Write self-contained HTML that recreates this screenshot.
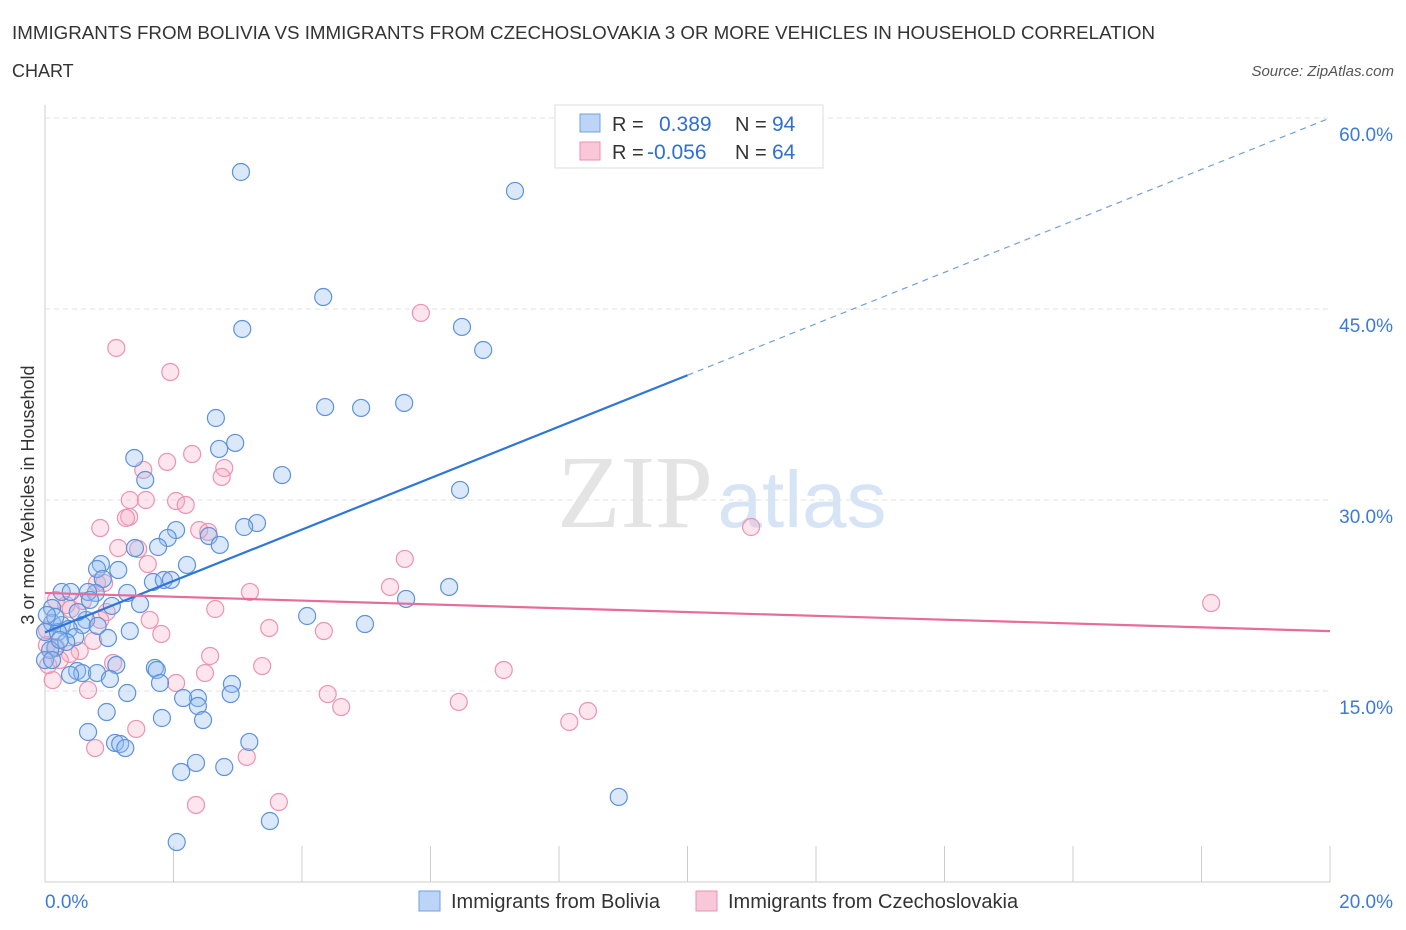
<!DOCTYPE html>
<html><head><meta charset="utf-8"><style>
body{margin:0;background:#fff;font-family:"Liberation Sans",sans-serif;}
svg{display:block}
</style></head><body>
<svg id="chart" width="1406" height="930">
<text x="12" y="39" font-size="18" fill="#333" textLength="1143" lengthAdjust="spacingAndGlyphs">IMMIGRANTS FROM BOLIVIA VS IMMIGRANTS FROM CZECHOSLOVAKIA 3 OR MORE VEHICLES IN HOUSEHOLD CORRELATION</text>
<text x="12" y="77" font-size="18" fill="#333">CHART</text>
<text x="1394" y="76" font-size="15" fill="#555" font-style="italic" text-anchor="end">Source: ZipAtlas.com</text>
<text x="635" y="527" font-size="104" fill="#e4e4e4" font-family="Liberation Serif,serif" text-anchor="middle">ZIP</text>
<text x="802" y="527" font-size="80" fill="#d6e4f5" text-anchor="middle">atlas</text>
<text transform="translate(34,495) rotate(-90)" font-size="18" fill="#333" text-anchor="middle">3 or more Vehicles in Household</text>
<g id="grid"></g><g id="pts"></g><g id="lines"></g>
<g>
<rect x="555" y="105" width="268" height="63" fill="#fff" stroke="#ddd"/>
<rect x="580" y="114" width="20" height="18" fill="#bcd4f5" stroke="#6fa0e0"/>
<text x="612" y="131" font-size="20" fill="#333">R =</text><text x="659" y="131" font-size="21" fill="#2f6fd0">0.389</text>
<text x="735" y="131" font-size="20" fill="#333">N =</text><text x="772" y="131" font-size="21" fill="#2f6fd0">94</text>
<rect x="580" y="142" width="20" height="18" fill="#f8c8d8" stroke="#ec8fae"/>
<text x="612" y="159" font-size="20" fill="#333">R =</text><text x="647" y="159" font-size="21" fill="#2f6fd0">-0.056</text>
<text x="735" y="159" font-size="20" fill="#333">N =</text><text x="772" y="159" font-size="21" fill="#2f6fd0">64</text>
</g>
<g>
<rect x="419" y="891" width="21" height="20" fill="#bcd4f5" stroke="#6fa0e0"/>
<text x="451" y="908" font-size="20" fill="#333">Immigrants from Bolivia</text>
<rect x="696" y="891" width="21" height="20" fill="#f8c8d8" stroke="#ec8fae"/>
<text x="728" y="908" font-size="20" fill="#333">Immigrants from Czechoslovakia</text>
</g>
</svg>
<script>
const yTicks=[15,30,45,60];
const yTickLabels=["15.0%","30.0%","45.0%","60.0%"];
const xTickLabels=["0.0%","20.0%"];
const blueX=[3.05,7.315,4.33,3.07,6.49,6.82,5.59,4.36,4.92,2.66,2.96,2.71,1.39,3.69,1.56,6.46,3.30,3.10,2.04,1.91,2.55,2.72,1.40,1.76,0.87,1.14,2.21,0.81,0.90,1.68,1.85,1.96,6.29,5.62,1.28,0.79,0.26,0.40,0.67,1.04,1.48,0.11,4.08,4.98,0.11,0.64,0.26,0.58,0.82,1.32,0.37,0.00,0.20,0.47,0.98,0.16,0.08,0.00,0.50,0.58,0.81,1.11,1.71,1.74,1.01,1.79,1.28,2.91,2.89,2.38,2.15,2.38,2.46,0.96,1.82,0.67,1.09,1.17,1.25,3.18,2.35,2.12,2.79,8.93,3.50,2.05,0.11,0.33,0.51,0.70,0.16,0.03,0.23,0.39];
const blueY=[55.76,54.27,45.94,43.43,43.59,41.78,37.62,37.30,37.23,36.44,34.48,34.01,33.30,31.96,31.57,30.79,28.19,27.88,27.64,27.02,27.17,26.47,26.23,26.31,24.97,24.50,24.90,24.58,23.80,23.56,23.72,23.72,23.17,22.23,22.70,22.70,22.78,22.78,22.78,21.68,21.83,21.52,20.89,20.26,20.34,20.58,20.18,20.18,20.11,19.71,19.87,19.63,19.63,19.24,19.16,18.38,18.22,17.43,16.57,16.41,16.41,17.04,16.81,16.65,15.94,15.63,14.84,15.55,14.76,14.45,14.45,13.82,12.72,13.35,12.88,11.78,10.92,10.84,10.52,11.00,9.35,8.64,9.03,6.68,4.79,3.14,17.43,18.85,21.20,22.15,20.81,20.97,19.01,16.26];
const pinkX=[1.11,1.95,5.85,2.29,1.90,1.53,2.79,2.75,1.32,1.57,2.04,2.19,1.31,1.26,0.86,2.40,2.54,1.14,1.45,5.60,1.60,0.81,0.92,5.37,3.19,0.59,0.33,0.40,0.96,2.65,1.63,3.49,4.34,1.81,0.75,0.03,0.17,0.54,0.39,2.57,1.06,3.38,7.14,2.49,2.04,0.67,4.40,4.61,6.44,8.45,8.16,1.42,0.78,3.14,3.64,2.35,0.12,0.05,10.99,18.15,0.03,0.17,0.86,0.23];
const pinkY=[41.94,40.05,44.69,33.61,32.99,32.36,32.51,31.81,30.00,30.00,29.92,29.61,28.67,28.59,27.80,27.64,27.49,26.23,26.15,25.37,24.97,23.48,23.48,23.17,22.78,22.07,21.75,21.44,21.20,21.44,20.58,19.95,19.71,19.48,18.93,18.61,18.46,18.14,17.91,17.75,17.20,16.96,16.65,16.41,15.63,15.08,14.76,13.74,14.14,13.43,12.57,12.02,10.52,9.82,6.28,6.05,15.86,17.04,27.88,21.91,19.79,22.15,20.58,17.43];
const blueTrend=[19.6,60.0];
const pinkTrend=[22.7,19.7];
const NS="http://www.w3.org/2000/svg";
const X0=45,X1=1330,Y0=882,YPX=191/15;
function sx(v){return X0+(v/20)*(X1-X0);}
function sy(v){return Y0-v*YPX;}
function mk(tag,attrs,parent){const e=document.createElementNS(NS,tag);for(const k in attrs)e.setAttribute(k,attrs[k]);parent.appendChild(e);return e;}
const grid=document.getElementById('grid');
let ax=mk('line',{x1:X0,y1:105,x2:X0,y2:Y0,stroke:'#ccc'},grid);


let bx=mk('line',{x1:X0,y1:Y0,x2:X1,y2:Y0,stroke:'#ccc'},grid);


yTicks.forEach((t,i)=>{
 let g=mk('line',{x1:X0,y1:sy(t),x2:X1,y2:sy(t),stroke:'#e2e2e2','stroke-dasharray':'5,4'},grid);
 
 
 let tx=mk('text',{x:1393,y:sy(t)+23,'font-size':19,fill:'#3b7ad8','text-anchor':'end'},grid);
 tx.textContent=yTickLabels[i];
 
 
});
for(let i=0;i<=10;i++){
 let t=mk('line',{x1:sx(i*2),y1:Y0,x2:sx(i*2),y2:Y0-36,stroke:'#ccc'},grid);
 
 
}
[[0,'start',45],[20,'end',1393]].forEach((d,i)=>{
 let tx=mk('text',{x:d[2],y:908,'font-size':19,fill:'#3b7ad8','text-anchor':d[1]},grid);
 tx.textContent=xTickLabels[i];
 
 
});
const pts=document.getElementById('pts');
pinkX.forEach((x,i)=>{
 let c=mk('circle',{cx:sx(x),cy:sy(pinkY[i]),r:8.5,fill:'rgba(244,170,195,0.3)',stroke:'#ec93b1','stroke-width':1.2},pts);
 
 
});
blueX.forEach((x,i)=>{
 let c=mk('circle',{cx:sx(x),cy:sy(blueY[i]),r:8.5,fill:'rgba(150,190,240,0.35)',stroke:'#5d92db','stroke-width':1.2},pts);
 
 
});
const lines=document.getElementById('lines');
const bm=(blueTrend[0]+blueTrend[1])/2;
let b1=mk('line',{x1:sx(0),y1:sy(blueTrend[0]),x2:sx(10),y2:sy(bm),stroke:'#2f76d6','stroke-width':2.2},lines);


let b2=mk('line',{x1:sx(10),y1:sy(bm),x2:sx(20),y2:sy(blueTrend[1]),stroke:'#6fa0e0','stroke-width':1.2,'stroke-dasharray':'6,5'},lines);


let p1=mk('line',{x1:sx(0),y1:sy(pinkTrend[0]),x2:sx(20),y2:sy(pinkTrend[1]),stroke:'#e96b98','stroke-width':2.2},lines);


</script>
</body></html>
